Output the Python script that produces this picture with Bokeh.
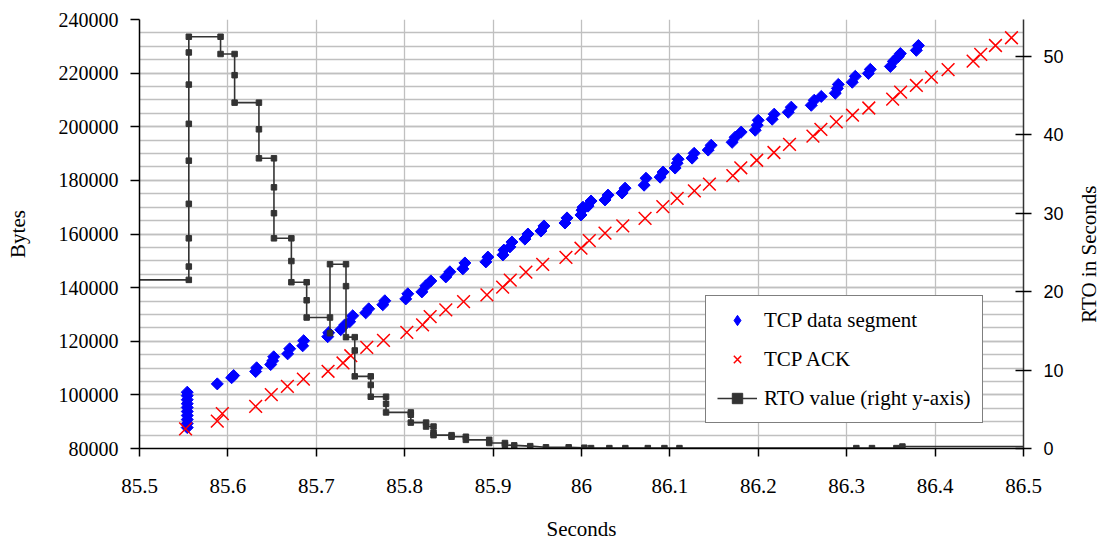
import math
from bokeh.plotting import figure
from bokeh.layouts import row
from bokeh.models import Range1d, LinearAxis, FixedTicker, Legend, LegendItem
from bokeh.core.properties import value
from bokeh.embed import file_html
from bokeh.resources import INLINE

# ---- data -------------------------------------------------------------
# TCP data segments: time (s), sequence bytes
seg_time = [85.554, 85.554, 85.554, 85.554, 85.554, 85.554, 85.554, 85.554, 85.554, 85.554,
            85.5880, 85.6042, 85.6065, 85.6314, 85.6325, 85.6484, 85.6506, 85.6518, 85.6676, 85.6699,
            85.6846, 85.6857, 85.7129, 85.7140, 85.7276, 85.7322, 85.7378, 85.7412, 85.7559, 85.7593,
            85.7752, 85.7775, 85.8012, 85.8035, 85.8194, 85.8239, 85.8296, 85.8465, 85.8511, 85.8658,
            85.8681, 85.8918, 85.8941, 85.9111, 85.9122, 85.9190, 85.9213, 85.9360, 85.9394, 85.9541,
            85.9575, 85.9813, 85.9836, 85.9994, 86.0006, 86.0017, 86.0074, 86.0108, 86.0266, 86.0300,
            86.0459, 86.0493, 86.0708, 86.0730, 86.0889, 86.0923, 86.1059, 86.1082, 86.1093, 86.1251,
            86.1274, 86.1433, 86.1467, 86.1704, 86.1738, 86.1806, 86.1965, 86.1988, 86.1999, 86.2157,
            86.2180, 86.2339, 86.2373, 86.2599, 86.2633, 86.2712, 86.2871, 86.2894, 86.2905, 86.3063,
            86.3097, 86.3245, 86.3267, 86.3494, 86.3528, 86.3584, 86.3607, 86.3788, 86.3811]
seg_bytes = [87800, 89300, 90800, 92300, 93800, 95300, 96700, 98200, 99700, 101000,
             104100, 106400, 107200, 108700, 110100, 111300, 112700, 114200, 115300, 117200,
             118300, 120200, 121700, 123200, 124300, 126100, 127300, 129500, 130600, 132100,
             133600, 135100, 135800, 137700, 138400, 140700, 142500, 144000, 145900, 147000,
             149200, 149600, 151400, 152200, 154000, 155200, 157000, 158100, 160000, 161100,
             163000, 164100, 166000, 167100, 168900, 170000, 170400, 172300, 172700, 174500,
             175300, 177100, 178200, 180800, 181200, 183100, 184600, 186400, 187900, 188300,
             190100, 191300, 193100, 194200, 196100, 198000, 198700, 200600, 202400, 202800,
             204700, 205400, 207300, 208000, 209900, 211300, 212500, 214300, 215800, 216600,
             218800, 219900, 221400, 222500, 224400, 226200, 227300, 228500, 230300]

# TCP ACKs: time (s), acknowledged bytes
ack_time = [85.5521, 85.5880, 85.5937, 85.6314, 85.6491, 85.6673, 85.6854, 85.7133, 85.7302, 85.7390,
            85.7571, 85.7760, 85.8024, 85.8202, 85.8288, 85.8465, 85.8666, 85.8930, 85.9108, 85.9194,
            85.9371, 85.9561, 85.9824, 85.9994, 86.0088, 86.0266, 86.0467, 86.0719, 86.0920, 86.1082,
            86.1277, 86.1447, 86.1712, 86.1802, 86.1982, 86.2177, 86.2353, 86.2618, 86.2708, 86.2882,
            86.3066, 86.3250, 86.3520, 86.3610, 86.3788, 86.3958, 86.4147, 86.4430, 86.4516, 86.4683,
            86.4864]
ack_bytes = [87300, 90200, 93000, 95700, 100100, 103200, 105900, 108800, 111900, 114600,
             117700, 120300, 123300, 126100, 129200, 131700, 134800, 137300, 140200, 142800,
             145800, 148700, 151300, 154700, 157500, 160300, 163000, 165800, 170200, 173300,
             176100, 178600, 181800, 184700, 187500, 190400, 193400, 196500, 199000, 201800,
             204300, 207000, 210300, 212900, 215400, 218500, 221300, 224500, 227000, 230300,
             233200]

# RTO value (right axis, seconds)
rto_time = [85.40,
            85.5558, 85.5558, 85.5558, 85.5558, 85.5558, 85.5558, 85.5558, 85.5558, 85.5558,
            85.5917, 85.5917,
            85.6076, 85.6076, 85.6076,
            85.6351, 85.6351, 85.6351,
            85.6521, 85.6521, 85.6521, 85.6521,
            85.6718, 85.6718, 85.6718,
            85.6891, 85.6891, 85.6891,
            85.7155, 85.7155, 85.7155,
            85.7336, 85.7336, 85.7336,
            85.7435, 85.7435, 85.7435,
            85.7616, 85.7616, 85.7616,
            85.7789, 85.7789, 85.7789,
            85.8069, 85.8069, 85.8069,
            85.8242, 85.8242,
            85.8326, 85.8326, 85.8326,
            85.8530, 85.8530,
            85.8692, 85.8692,
            85.8956, 85.8956,
            85.9134, 85.9134,
            85.9239, 85.9420, 85.9598, 85.9855, 86.0032, 86.0108, 86.0315, 86.0496,
            86.0750, 86.0938, 86.1108, 86.3109, 86.3286, 86.3562, 86.3630, 86.60]
rto_value = [21.5,
             21.5, 23.2, 26.8, 31.2, 36.7, 41.4, 46.4, 50.5, 52.5,
             52.5, 50.3,
             50.3, 47.6, 44.1,
             44.1, 40.7, 37.0,
             37.0, 33.3, 30.0, 26.8,
             26.8, 23.9, 21.2,
             21.2, 18.9, 16.7,
             16.7, 14.7, 23.5,
             23.5, 20.7, 14.2,
             14.2, 12.5, 9.2,
             9.2, 8.1, 6.6,
             6.6, 5.7, 4.6,
             4.6, 4.3, 3.3,
             3.3, 2.8,
             2.8, 2.0, 1.7,
             1.7, 1.5,
             1.5, 1.1,
             1.1, 0.7,
             0.7, 0.45,
             0.4, 0.3, 0.15, 0.15, 0.1, 0.05, 0.05, 0.05,
             0.05, 0.05, 0.05, 0.05, 0.05, 0.05, 0.25, 0.25]

x_ticks = [85.5, 85.6, 85.7, 85.8, 85.9, 86, 86.1, 86.2, 86.3, 86.4, 86.5]
x_tick_labels = ["85.5", "85.6", "85.7", "85.8", "85.9", "86", "86.1", "86.2", "86.3", "86.4", "86.5"]
y_ticks = [80000, 100000, 120000, 140000, 160000, 180000, 200000, 220000, 240000]
y_tick_labels = ["80000", "100000", "120000", "140000", "160000", "180000", "200000", "220000", "240000"]
rto_ticks = [0, 10, 20, 30, 40, 50]
rto_tick_labels = ["0", "10", "20", "30", "40", "50"]

# ---- figure -----------------------------------------------------------
SERIF = "Liberation Serif"
SANS = "Liberation Sans"
GRID = "#c0c0c0"

p = figure(width=1066, height=543, output_backend="svg", toolbar_location=None,
           x_range=Range1d(85.5, 86.5), y_range=Range1d(80000, 240000),
           min_border_left=139, min_border_right=43, min_border_top=19, min_border_bottom=94)
p.extra_y_ranges = {"rto": Range1d(0, 54.7)}
p.outline_line_color = None
p.background_fill_color = "white"
p.border_fill_color = "white"

# grids
p.xgrid.grid_line_color = GRID
p.xgrid.grid_line_width = 1.3
p.ygrid.grid_line_color = GRID
p.ygrid.grid_line_width = 1.3
p.ygrid.minor_grid_line_color = GRID
p.ygrid.minor_grid_line_width = 1.3

# left axis
ya = p.yaxis[0]
ya.ticker = FixedTicker(ticks=y_ticks, minor_ticks=list(range(80000, 240001, 5000)))
ya.major_label_overrides = dict(zip(y_ticks, y_tick_labels))
ya.major_label_text_font = SERIF
ya.major_label_text_font_size = "20px"
ya.major_label_text_color = "black"
ya.major_label_standoff = 12
ya.major_tick_out = 9
ya.major_tick_in = 0
ya.minor_tick_line_color = None
ya.axis_line_color = "black"
ya.axis_line_width = 1.5
ya.major_tick_line_color = "black"
ya.major_tick_line_width = 1.5
ya.axis_label = "Bytes"
ya.axis_label_text_font = SERIF
ya.axis_label_text_font_size = "21px"
ya.axis_label_text_font_style = "normal"
ya.axis_label_text_color = "black"
ya.axis_label_standoff = 26

# bottom axis
xa = p.xaxis[0]
xa.ticker = FixedTicker(ticks=x_ticks)
xa.major_label_overrides = dict(zip(x_ticks, x_tick_labels))
xa.major_label_text_font = SERIF
xa.major_label_text_font_size = "21px"
xa.major_label_text_color = "black"
xa.major_label_standoff = 22
xa.major_tick_out = 8
xa.major_tick_in = 0
xa.minor_tick_line_color = None
xa.axis_line_color = "black"
xa.axis_line_width = 1.5
xa.major_tick_line_color = "black"
xa.major_tick_line_width = 1.5
xa.axis_label = "Seconds"
xa.axis_label_text_font = SERIF
xa.axis_label_text_font_size = "21px"
xa.axis_label_text_font_style = "normal"
xa.axis_label_text_color = "black"
xa.axis_label_standoff = 21

# right axis
ra = LinearAxis(y_range_name="rto")
ra.ticker = FixedTicker(ticks=rto_ticks)
ra.major_label_overrides = dict(zip(rto_ticks, rto_tick_labels))
ra.major_label_text_font = SANS
ra.major_label_text_font_size = "18px"
ra.major_label_text_color = "black"
ra.major_label_standoff = 12
ra.major_tick_out = 8
ra.major_tick_in = 8
ra.minor_tick_line_color = None
ra.axis_line_color = "#333333"
ra.axis_line_width = 1.5
ra.major_tick_line_color = "black"
ra.major_tick_line_width = 1.5
p.add_layout(ra, "right")

# ---- glyphs -----------------------------------------------------------
r_seg = p.scatter(seg_time, seg_bytes, marker="square", angle=math.pi / 4, size=8.5,
                  fill_color="#0000ff", line_color="#0000ff", line_width=1)
r_ack = p.scatter(ack_time, ack_bytes, marker="x", size=18, line_color="#ff0000", line_width=1.5)
r_rto_line = p.line(rto_time, rto_value, y_range_name="rto", line_color="#333333", line_width=1.6)
r_rto_pts = p.scatter(rto_time, rto_value, y_range_name="rto", marker="square", size=5.5,
                      fill_color="#333333", line_color="#333333")
# legend-only diamond symbol (no visible point)
r_seg_key = p.scatter([float("nan")], [float("nan")], marker="diamond",
                      fill_color="#0000ff", line_color="#0000ff")

legend = Legend(items=[
    LegendItem(label="TCP data segment", renderers=[r_seg_key]),
    LegendItem(label="TCP ACK", renderers=[r_ack]),
    LegendItem(label="RTO value (right y-axis)", renderers=[r_rto_line, r_rto_pts]),
], location=(566, 25))
legend.label_text_font = SERIF
legend.label_text_font_size = "21px"
legend.label_text_color = "black"
legend.border_line_color = "black"
legend.border_line_width = 1
legend.background_fill_color = "white"
legend.background_fill_alpha = 1
legend.glyph_width = 40
legend.glyph_height = 26
legend.label_height = 24
legend.label_standoff = 7
legend.spacing = 13
legend.padding = 11
legend.margin = 0
p.add_layout(legend)

# ---- right-hand title strip (text reads bottom-to-top) ----------------
p2 = figure(width=36, height=543, output_backend="svg", toolbar_location=None,
            x_range=Range1d(0, 36), y_range=Range1d(0, 543), min_border=0,
            x_axis_location=None, y_axis_location=None)
p2.outline_line_color = None
p2.grid.grid_line_color = None
p2.background_fill_color = "white"
p2.border_fill_color = "white"
p2.text(x=[22.5], y=[246], text=["RTO in Seconds"], angle=math.pi / 2,
        text_align="center", text_baseline="middle", text_font=value(SERIF),
        text_font_size="21px", text_color="black")

layout = row(p, p2)
open("out.html", "w").write(file_html(layout, INLINE))
